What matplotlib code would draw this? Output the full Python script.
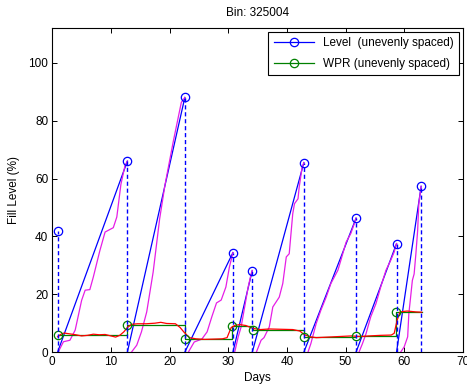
"""
plot.py
-------
Bin 325004: measured fill level vs. waste production rate (WPR).
"""

import numpy as np
import matplotlib
matplotlib.use('Agg')
import matplotlib.pyplot as plt

plt.rcParams['font.family'] = ['Liberation Sans', 'DejaVu Sans']

# --- measured level at each visit (unevenly spaced) ---
level_days = [0.9, 12.8, 22.6, 30.8, 34.1, 42.9, 51.8, 58.7, 62.9]
level_vals = [42, 66, 88, 34.4, 28.2, 65.5, 46.3, 37.5, 57.3]

# --- WPR at each visit (unevenly spaced) ---
wpr_days = [0.9, 12.8, 22.6, 30.7, 34.2, 43.0, 51.8, 58.6]
wpr_vals = [5.9, 9.5, 4.6, 9.0, 7.6, 5.3, 5.7, 13.9]
wpr_end_day = 63.0

# --- smoothed WPR (red) ---
wpr_smooth_days = [0.9, 1.5, 2.0, 3.0, 4.0, 5.0, 6.0, 7.0, 8.0, 9.0, 10.0,
                   10.8, 11.5, 12.2, 12.8, 13.5, 14.5, 16.0, 17.5, 18.5, 19.5,
                   21.0, 21.8, 22.5, 23.4, 24.5, 26.0, 27.5, 29.0, 29.8, 30.5,
                   31.2, 32.0, 33.0, 34.2, 35.5, 37.0, 39.0, 41.0, 42.2, 43.0,
                   44.0, 45.0, 47.0, 49.0, 51.0, 52.5, 54.0, 56.0, 57.8, 58.3,
                   58.8, 59.3, 60.5, 62.0, 63.0]
wpr_smooth_vals = [5.3, 6.2, 6.6, 6.3, 6.0, 5.6, 5.8, 6.2, 6.0, 6.1, 5.6,
                   5.2, 5.8, 7.0, 8.5, 9.6, 9.8, 9.8, 10.0, 10.3, 9.9,
                   9.8, 8.5, 6.8, 5.0, 4.6, 4.4, 4.5, 4.6, 5.0, 8.5,
                   9.3, 9.5, 9.2, 8.2, 7.8, 8.0, 7.9, 7.8, 7.3, 6.0,
                   5.3, 5.0, 5.2, 5.4, 5.6, 5.4, 5.6, 5.8, 5.9, 6.5,
                   11.0, 13.9, 14.2, 13.9, 13.8]

# --- estimated fill level between visits (magenta), nan = new cycle ---
nan = np.nan
est_days = [1.0, 1.9, 3.0, 3.9, 5.0, 5.6, 6.4, 7.0, 8.1, 9.0, 10.4, 11.0, 11.7, 12.4, 12.8, nan,
            13.5, 14.4, 15.2, 16.1, 17.2, 18.3, 19.2, 20.6, 22.0, 22.6, nan,
            23.2, 24.2, 25.5, 26.4, 27.2, 28.0, 28.8, 29.6, 30.2, 30.8, nan,
            31.1, 31.7, 32.2, 32.8, 33.4, 33.9, 34.1, nan,
            34.8, 35.6, 36.1, 37.0, 37.6, 38.7, 39.3, 39.9, 40.4, 41.0, 41.3, 41.9, 42.1, 42.6, 42.9, nan,
            43.6, 44.1, 45.0, 45.8, 46.7, 47.5, 48.1, 48.7, 49.2, 50.1, 50.9, 51.5, 51.8, nan,
            52.3, 52.9, 53.5, 54.3, 55.2, 56.0, 56.9, 57.7, 58.3, 58.7, nan,
            59.4, 60.0, 60.6, 60.8, 61.1, 61.4, 61.7, 62.0, 62.3, 62.5, 62.9]
est_vals = [0.0, 3.6, 4.1, 7.6, 17.9, 21.4, 21.6, 26.0, 35.0, 41.5, 43.0, 46.7, 58.0, 64.5, 66.0, nan,
            0.0, 2.4, 7.0, 13.9, 27.7, 46.0, 57.6, 72.5, 86.3, 88.0, nan,
            0.0, 3.5, 4.5, 7.0, 12.2, 17.0, 18.0, 22.5, 29.4, 34.4, nan,
            0.0, 5.3, 8.7, 15.6, 22.5, 27.0, 28.2, nan,
            0.0, 4.1, 5.0, 8.7, 15.6, 19.0, 23.7, 32.9, 34.0, 47.8, 51.3, 53.0, 57.0, 63.9, 65.5, nan,
            0.0, 3.0, 9.9, 14.5, 19.0, 23.7, 26.0, 28.3, 31.7, 38.0, 41.0, 44.4, 46.3, nan,
            0.0, 3.0, 6.4, 12.2, 16.8, 22.5, 28.3, 31.7, 34.6, 37.5, nan,
            0.0, 1.8, 5.3, 13.3, 19.0, 24.8, 27.0, 34.0, 42.0, 51.3, 57.3]

BLUE = '#0000ff'
GREEN = '#008000'


def level_sawtooth(days, vals):
    """Solid blue rise: from empty at one visit up to the next reading."""
    xs, ys = [], []
    for i in range(len(days) - 1):
        xs += [days[i], days[i + 1], np.nan]
        ys += [0, vals[i + 1], np.nan]
    return xs, ys


fig = plt.figure(figsize=(4.67, 3.84), dpi=100)
ax = fig.add_axes([0.112, 0.083, 0.879, 0.844])

# blue rise lines
sx, sy = level_sawtooth(level_days, level_vals)
ax.plot(sx, sy, color=BLUE, lw=0.9, zorder=2)

# estimated level
ax.plot(est_days, est_vals, color='#e61ee6', lw=0.9, zorder=3)

# WPR steps
wx = wpr_days + [wpr_end_day]
wy = wpr_vals + [wpr_vals[-1]]
ax.plot(wx, wy, color=GREEN, lw=0.9, drawstyle='steps-post', zorder=4)
ax.plot(wpr_days, wpr_vals, 'o', color=GREEN, mfc='none', ms=6, mew=0.9, zorder=6)

# smoothed WPR
ax.plot(wpr_smooth_days, wpr_smooth_vals, color='#ff0000', lw=0.9, zorder=5)

# emptying: dashed drop to zero
ax.vlines(level_days, 0, level_vals, colors=BLUE, linestyles=(0, (3, 2)), lw=1.0, zorder=6)
ax.plot(level_days, level_vals, 'o', color=BLUE, mfc='none', ms=6, mew=0.9, zorder=7)

# legend proxies
ax.plot([], [], '-o', color=BLUE, mfc='none', ms=6, mew=0.9, lw=0.9,
        label='Level  (unevenly spaced)')
ax.plot([], [], '-o', color=GREEN, mfc='none', ms=6, mew=0.9, lw=0.9,
        label='WPR (unevenly spaced)')
leg = ax.legend(loc='upper right', fontsize=8.5, frameon=True, fancybox=False,
                edgecolor='black', framealpha=1, borderaxespad=0.3,
                handlelength=3.4, labelspacing=0.75, borderpad=0.45)
leg.get_frame().set_linewidth(0.8)

ax.set_xlim(0, 70)
ax.set_ylim(0, 112)
ax.set_xticks(range(0, 71, 10))
ax.set_yticks(range(0, 101, 20))
ax.tick_params(direction='in', top=True, right=True, length=3.5, width=0.7,
               labelsize=8.5, pad=3)
for s in ax.spines.values():
    s.set_linewidth(0.8)

ax.set_title('Bin: 325004', fontsize=8.5, pad=9)
ax.set_xlabel('Days', fontsize=8.5, labelpad=3)
ax.set_ylabel('Fill Level (%)', fontsize=8.5, labelpad=6)

fig.savefig('out.png', dpi=100)
